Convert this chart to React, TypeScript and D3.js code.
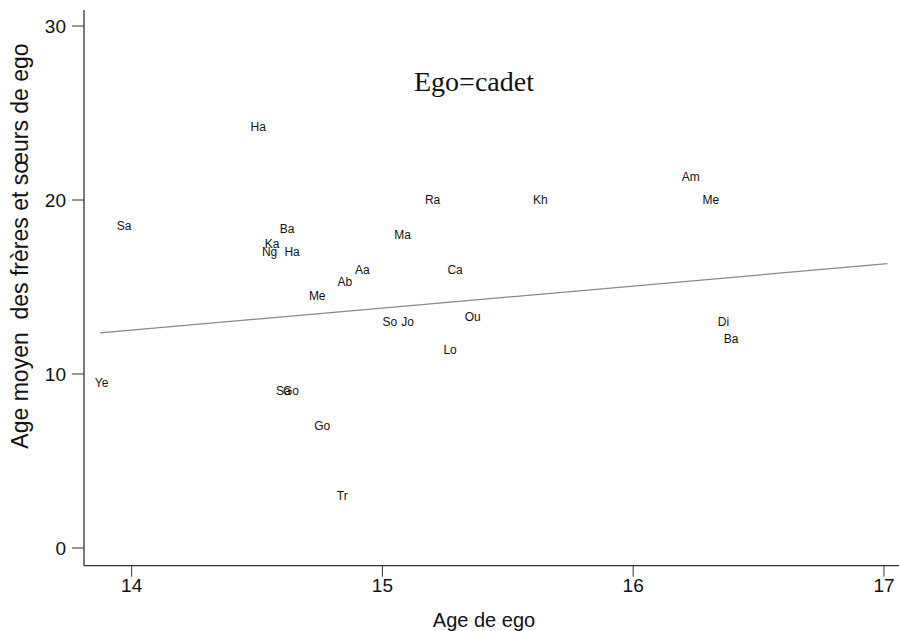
import React from "react";
import * as d3 from "d3";

const names = ["Ha","Am","Ra","Kh","Me","Sa","Ba","Ma","Ka","Ng","Ha","Aa","Ca","Ab","Me","Ou","So","Jo","Di","Ba","Lo","Ye","Sa","Go","Go","Tr"];
const ageEgo = [14.505,16.23,15.20,15.63,16.31,13.97,14.62,15.08,14.56,14.55,14.64,14.92,15.29,14.85,14.74,15.36,15.03,15.10,16.36,16.39,15.27,13.88,14.605,14.635,14.76,14.84];
const ageSibs = [24.2,21.3,20.0,20.0,20.0,18.5,18.33,18.0,17.5,17.0,17.0,16.0,16.0,15.3,14.5,13.3,13.0,13.0,13.0,12.0,11.4,9.5,9.0,9.0,7.0,3.0];
const fitX = [13.874, 17.014];
const fitY = [12.36, 16.34];
const xTicks = [14, 15, 16, 17];
const yTicks = [0, 10, 20, 30];

export default function App() {
  const W = 899, H = 631;
  const left = 84, right = 899, top = 10, bottom = 565.7;
  const x = d3.scaleLinear().domain([13.81, 17.06]).range([left, right]);
  const y = d3.scaleLinear().domain([-1.017, 30.92]).range([bottom, top]);
  const line = d3.line<number>().x((_, i) => x(fitX[i])).y((_, i) => y(fitY[i]));
  const sans = "Arial, 'Liberation Sans', sans-serif";
  return (
    <svg width={W} height={H} style={{ position: "absolute", left: 0, top: 0, background: "#fff" }} fontFamily={sans}>
      <rect width={W} height={H} fill="#fff" />
      <line x1={left} x2={left} y1={top} y2={bottom} stroke="#333" strokeWidth={1.3} />
      <line x1={left} x2={right} y1={bottom} y2={bottom} stroke="#333" strokeWidth={1.3} />
      {yTicks.map(t => (
        <g key={"y" + t}>
          <line x1={left - 12} x2={left} y1={y(t)} y2={y(t)} stroke="#333" strokeWidth={1} />
          <text x={left - 18} y={y(t)} textAnchor="end" dominantBaseline="central" fontSize={19} fill="#111">{t}</text>
        </g>
      ))}
      {xTicks.map(t => (
        <g key={"x" + t}>
          <line x1={x(t)} x2={x(t)} y1={bottom} y2={bottom + 11} stroke="#333" strokeWidth={1} />
          <text x={x(t)} y={bottom + 26} textAnchor="middle" fontSize={19} fill="#111">{t}</text>
        </g>
      ))}
      <path d={line(fitX) || ""} fill="none" stroke="#888" strokeWidth={1.2} />
      {names.map((n, i) => (
        <text key={i} x={x(ageEgo[i])} y={y(ageSibs[i])} textAnchor="middle" dominantBaseline="central" fontSize={12} fill="#111">{n}</text>
      ))}
      <text x={474} y={91} textAnchor="middle" fontFamily="'Liberation Serif', 'Times New Roman', serif" fontSize={28} fill="#111">Ego=cadet</text>
      <text x={484} y={627} textAnchor="middle" fontSize={20} fill="#111">Age de ego</text>
      <text transform={`translate(28, 246) rotate(-90)`} textAnchor="middle" fontSize={23} fill="#111" xmlSpace="preserve">Age moyen  des frères et sœurs de ego</text>
    </svg>
  );
}
